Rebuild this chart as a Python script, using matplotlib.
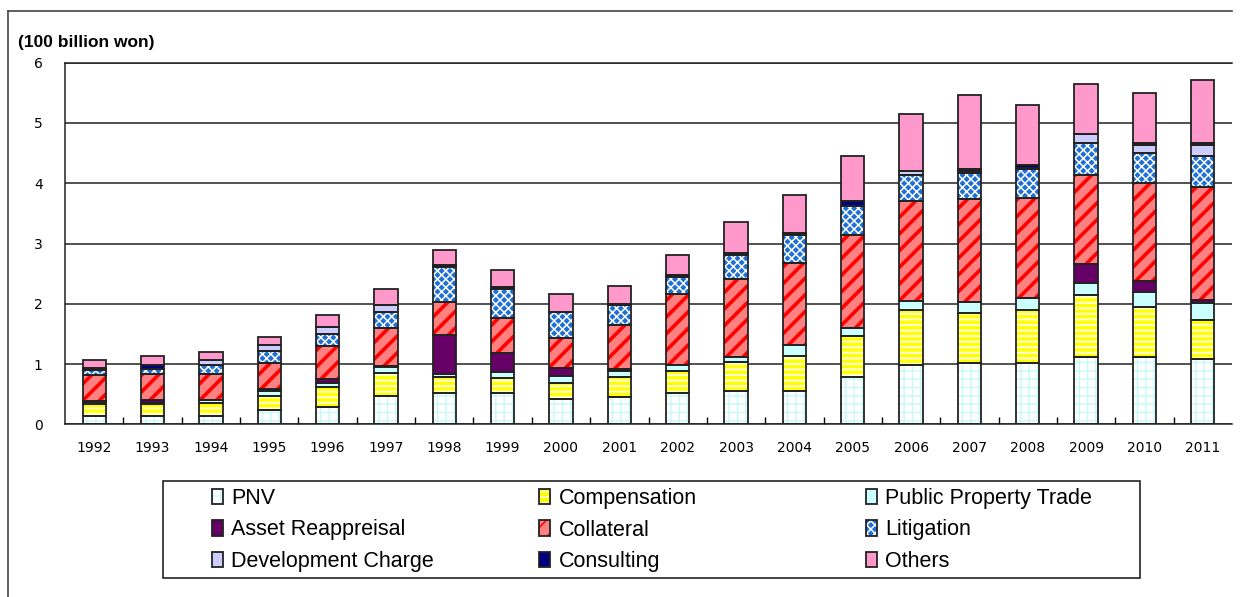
import numpy as np
import matplotlib
matplotlib.use("Agg")
import matplotlib.pyplot as plt
from matplotlib.lines import Line2D
from matplotlib.patches import Rectangle

years = [str(y) for y in range(1992, 2012)]

# values in 100 billion won, stacked bottom to top
pnv          = [0.14, 0.13, 0.14, 0.24, 0.28, 0.47, 0.52, 0.52, 0.42, 0.46, 0.52, 0.56, 0.56, 0.79, 0.98, 1.02, 1.02, 1.11, 1.11, 1.09]
compensation = [0.19, 0.20, 0.21, 0.23, 0.34, 0.38, 0.27, 0.25, 0.26, 0.33, 0.37, 0.47, 0.58, 0.68, 0.92, 0.82, 0.88, 1.03, 0.83, 0.64]
public_trade = [0.04, 0.03, 0.05, 0.08, 0.07, 0.10, 0.04, 0.09, 0.12, 0.09, 0.09, 0.09, 0.18, 0.13, 0.14, 0.19, 0.20, 0.21, 0.26, 0.28]
asset_reapp  = [0.02, 0.04, 0.00, 0.04, 0.06, 0.02, 0.65, 0.33, 0.14, 0.03, 0.00, 0.00, 0.00, 0.00, 0.00, 0.00, 0.00, 0.31, 0.18, 0.06]
collateral   = [0.42, 0.43, 0.43, 0.43, 0.55, 0.63, 0.55, 0.57, 0.50, 0.73, 1.18, 1.29, 1.35, 1.54, 1.67, 1.71, 1.66, 1.48, 1.63, 1.87]
litigation   = [0.09, 0.08, 0.15, 0.19, 0.20, 0.26, 0.58, 0.49, 0.42, 0.34, 0.28, 0.40, 0.47, 0.48, 0.43, 0.43, 0.47, 0.53, 0.49, 0.52]
dev_charge   = [0.01, 0.01, 0.08, 0.10, 0.11, 0.12, 0.00, 0.00, 0.00, 0.00, 0.00, 0.00, 0.04, 0.00, 0.06, 0.04, 0.03, 0.14, 0.14, 0.17]
consulting   = [0.02, 0.06, 0.00, 0.00, 0.00, 0.00, 0.03, 0.03, 0.00, 0.02, 0.03, 0.04, 0.00, 0.09, 0.00, 0.03, 0.04, 0.00, 0.03, 0.04]
others       = [0.13, 0.16, 0.14, 0.14, 0.20, 0.26, 0.26, 0.28, 0.31, 0.30, 0.34, 0.50, 0.63, 0.74, 0.95, 1.23, 0.99, 0.83, 0.83, 1.04]

labels = ["PNV", "Compensation", "Public Property Trade", "Asset Reappreisal",
          "Collateral", "Litigation", "Development Charge", "Consulting", "Others"]
series = [pnv, compensation, public_trade, asset_reapp, collateral,
          litigation, dev_charge, consulting, others]

# (face colour, hatch, hatch colour, hatch line width)
styles = [
    ("white",   "++",   "#C8F8F8", 1.0),
    ("#FFFF00", "---",  "#FFFFD0", 1.6),
    ("#CCFFFF", None,   None,      0),
    ("#660066", None,   None,      0),
    ("#FF8080", "//",   "#FF0000", 2.6),
    ("#1E6FD6", "xxxx", "white",   1.1),
    ("#CCCCFF", None,   None,      0),
    ("#000080", None,   None,      0),
    ("#FF99CC", None,   None,      0),
]

fig = plt.figure(figsize=(12.48, 5.97), dpi=100)
ax = fig.add_axes([65 / 1248, 1 - 424.3 / 597, (1232 - 65) / 1248, (424.3 - 62.7) / 597])

x = np.arange(len(years))
width = 0.40
bottom = np.zeros(len(years))
handles = []
for vals, (face, hatch, hcol, hlw) in zip(series, styles):
    vals = np.array(vals)
    keep = vals > 0
    if hatch:
        plt.rcParams["hatch.linewidth"] = hlw
    fill = ax.bar(x[keep], vals[keep], width, bottom=bottom[keep], color=face,
                  hatch=hatch, edgecolor=hcol if hatch else face, linewidth=0, zorder=2)
    if hatch:
        for p in fill.patches:
            if hasattr(p, "set_hatch_linewidth"):
                p.set_hatch_linewidth(hlw)
    edge = ax.bar(x[keep], vals[keep], width, bottom=bottom[keep], fill=False,
                  edgecolor="#222222", linewidth=1.3, zorder=3)
    handles.append((fill.patches[0], edge.patches[0]))
    bottom += vals

ax.set_xlim(-0.5, len(years) - 0.5)
ax.set_ylim(0, 6)
ax.set_yticks(range(7))
ax.set_xticks(x)
ax.set_xticklabels(years)
ax.set_xticks(x[:-1] + 0.5, minor=True)
ax.tick_params(axis="x", which="major", length=0, pad=12, labelsize=10)
ax.tick_params(axis="x", which="minor", direction="in", length=5, width=1)
ax.tick_params(axis="y", length=0, pad=16, labelsize=10)
ax.yaxis.grid(True, color="#222222", linewidth=1.1, zorder=1)
ax.set_axisbelow(True)
ax.spines["right"].set_visible(False)
for s in ["left", "bottom", "top"]:
    ax.spines[s].set_color("#222222")
    ax.spines[s].set_linewidth(1.1)

fig.text(18 / 1248, 1 - 42 / 597, "(100 billion won)", fontsize=12.5,
         fontweight="bold", family="Liberation Sans", va="center", ha="left")

# figure frame (left and top edges)
fig.add_artist(Line2D([8 / 1248, 8 / 1248], [0, 1 - 11 / 597], color="#444444", lw=1.2))
fig.add_artist(Line2D([8 / 1248, 1232 / 1248], [1 - 11 / 597, 1 - 11 / 597], color="#444444", lw=1.2))

# legend frame and three columns
fig.add_artist(Rectangle((163 / 1248, 1 - 578 / 597), (1140 - 163) / 1248, (578 - 481) / 597,
                         transform=fig.transFigure, fill=False, edgecolor="#222222", lw=1.2))
col_x = [212 / 1248, 539 / 1248, 866 / 1248]
for c in range(3):
    idx = [c, c + 3, c + 6]
    fig.legend([handles[i] for i in idx], [labels[i] for i in idx],
               loc="center left", bbox_to_anchor=(col_x[c], 1 - 530 / 597),
               frameon=False, borderpad=0, borderaxespad=0,
               prop={"family": "Liberation Sans", "size": 15.5},
               handlelength=0.5, handleheight=0.7, handletextpad=0.4,
               labelspacing=0.47)

fig.savefig("out.png", dpi=100)
